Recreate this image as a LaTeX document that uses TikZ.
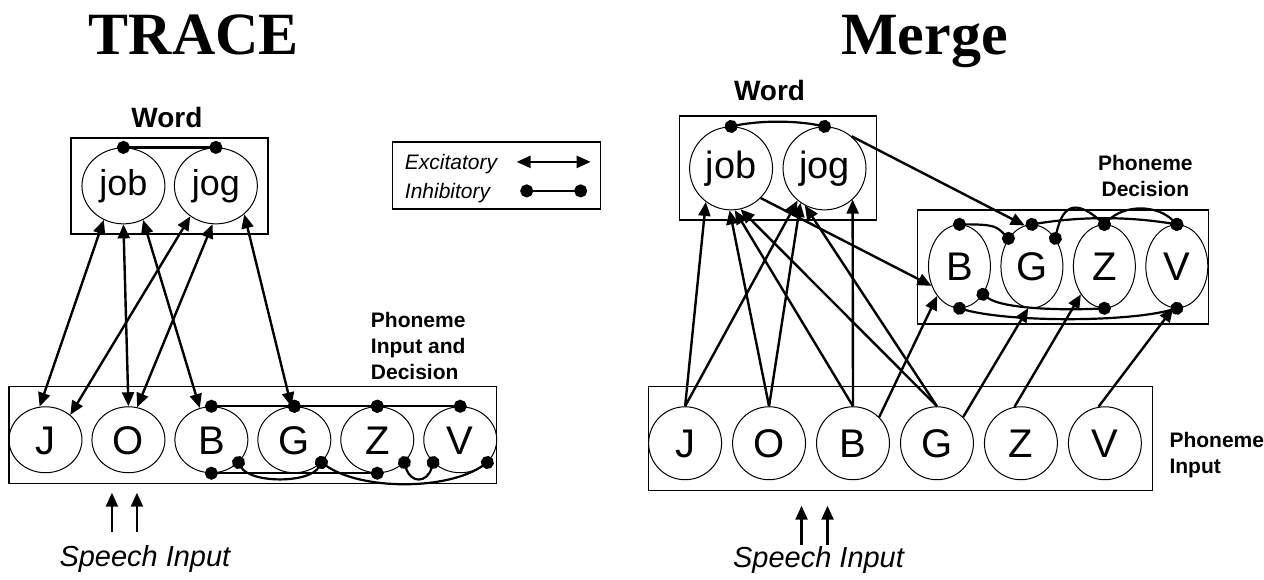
\documentclass[tikz,border=0pt]{standalone}
\usepackage{fontspec}
\setmainfont{Liberation Sans}
\newfontfamily\titlefont{Liberation Serif}
\usetikzlibrary{shapes.geometric,arrows.meta}

\tikzset{
  unitnode/.style={draw, ellipse, line width=1pt, inner sep=0pt},
  phon/.style={unitnode, font=\fontsize{40}{40}\selectfont, text height=28.6pt, text depth=0pt},
  wordunit/.style={unitnode, text height=27pt, text depth=7.6pt},
  layerbox/.style={draw, line width=1.4pt},
  exc/.style={line width=2.4pt, -{Triangle[length=14pt,width=12pt]}},
  excboth/.style={line width=2.4pt, {Triangle[length=14pt,width=12pt]}-{Triangle[length=14pt,width=12pt]}},
  inh/.style={line width=2.2pt, {Circle[length=13pt]}-{Circle[length=13pt]}, shorten <=-6.5pt, shorten >=-6.5pt},
  titletext/.style={font=\titlefont\bfseries\fontsize{60}{60}\selectfont, anchor=base},
  wordname/.style={font=\bfseries\fontsize{28}{28}\selectfont, anchor=base},
  layername/.style={font=\bfseries\fontsize{21}{26}\selectfont, align=left, inner sep=0pt},
  legendtext/.style={font=\itshape\fontsize{21}{21}\selectfont, anchor=base west, inner sep=0pt},
  speechtext/.style={font=\itshape\fontsize{29}{29}\selectfont, anchor=base},
}

\begin{document}
\begin{tikzpicture}[x=1pt,y=-1pt]
    \fill[white] (0,0) rectangle (1264,580);

    % Titoli
    \node[titletext] (tracetitle) at (194,55) {TRACE};
    \node[titletext] (mergetitle) at (925,55) {Merge};

    % TRACE: livello parole
    \node[wordname] (tword) at (167,128) {Word};
    \draw[layerbox] (71,138) rectangle (268,234);
    \node[wordunit, minimum width=83pt, minimum height=76pt, font=\fontsize{36}{36}\selectfont] (tjob) at (123.5,186) {job};
    \node[wordunit, minimum width=83pt, minimum height=76pt, font=\fontsize{36}{36}\selectfont] (tjog) at (216,186) {jog};
    \draw[inh] (tjob.north) -- (tjog.north);

    % Legenda
    \draw[layerbox] (393,142) rectangle (601,209);
    \node[legendtext] (lexc) at (405,170) {Excitatory};
    \node[legendtext] (linh) at (405,199) {Inhibitory};
    \coordinate (exA) at (517,162);
    \coordinate (exB) at (591,162);
    \coordinate (inA) at (527,191);
    \coordinate (inB) at (581,191);
    \draw[excboth] (exA) -- (exB);
    \draw[inh] (inA) -- (inB);

    % TRACE: livello fonemi
    \node[layername, anchor=north west] (tphlabel) at (371,312) {Phoneme\\Input and\\Decision};
    \draw[layerbox] (9,387) rectangle (497,484);
    \foreach \p [count=\i from 0] in {J,O,B,G,Z,V} {
      \node[phon, minimum width=73pt, minimum height=66pt] (t\p) at ({45.5+83*\i},440) {\p};
    }

    % TRACE: inibizioni tra fonemi
    \foreach \a/\b in {tB/tG,tG/tZ,tZ/tV} {
      \draw[inh] (\a.north) -- (\b.north);
    }
    \draw[inh] (tB.south) -- (tZ.south);
    \draw[inh] (tB.-40) .. controls +(12,21) and +(-12,21) .. (tG.-40);
    \draw[inh] (tG.-40) .. controls +(40,28) and +(-40,28) .. (tV.-40);
    \draw[inh] (tZ.-40) .. controls +(6,21) and +(-6,21) .. (tV.220);

    % TRACE: connessioni parole-fonemi
    \foreach \a/\b in {tJ.100/tjob.240, tO.north/tjob.south, tB.110/tjob.300,
                       tJ.45/tjog.230, tO.75/tjog.265, tG.95/tjog.315} {
      \draw[excboth] (\a) -- (\b);
    }

    % TRACE: input
    \coordinate (tsA0) at (112,532);
    \coordinate (tsA1) at (112,493);
    \coordinate (tsB0) at (137,532);
    \coordinate (tsB1) at (137,493);
    \draw[exc] (tsA0) -- (tsA1);
    \draw[exc] (tsB0) -- (tsB1);
    \node[speechtext] (tspeech) at (145,567) {Speech Input};

    % Merge: livello parole
    \node[wordname] (mword) at (770,101) {Word};
    \draw[layerbox] (680,116) rectangle (877,220);
    \node[wordunit, minimum size=83pt, font=\fontsize{38}{38}\selectfont] (mjob) at (731.5,168.5) {job};
    \node[wordunit, minimum size=83pt, font=\fontsize{38}{38}\selectfont] (mjog) at (825,168.5) {jog};
    \draw[inh] (mjob.north) .. controls +(30,-6) and +(-30,-6) .. (mjog.north);

    % Merge: decisione fonemi
    \node[layername, align=center, anchor=north] (mdeclabel) at (1146,155) {Phoneme\\Decision};
    \draw[layerbox] (918,210) rectangle (1209,324);
    \foreach \p [count=\i from 0] in {B,G,Z,V} {
      \node[phon, minimum width=62pt, minimum height=83pt] (d\p) at ({960+72.5*\i},266.5) {\p};
    }
    \draw[inh] (dB.north) .. controls +(35,0) and +(-12,-12) .. (dG.130);
    \draw[inh] (dG.north) .. controls +(50,-8) and +(-50,-8) .. (dV.north);
    \draw[inh] (dG.50) .. controls +(8,-38) and +(-25,-22) .. (dZ.north);
    \draw[inh] (dZ.north) .. controls +(20,-20) and +(-20,-20) .. (dV.north);
    \draw[inh] (dB.-50) .. controls +(20,15) and +(-40,2) .. (dZ.south);
    \draw[inh] (dB.south) .. controls +(50,14) and +(-50,14) .. (dV.south);

    % Merge: input fonemi
    \node[layername, anchor=north west] (minlabel) at (1170,432) {Phoneme\\Input};
    \draw[layerbox] (649,387) rectangle (1153,491);
    \foreach \p [count=\i from 0] in {J,O,B,G,Z,V} {
      \node[phon, minimum size=73pt] (i\p) at ({685.5+84*\i},443.5) {\p};
    }

    % Merge: connessioni
    \foreach \a/\b in {iJ.north/mjob.233, iJ.north/mjog.230, iO.north/mjob.268, iO.north/mjog.235,
                       iB.north/mjob.275, iB.north/mjog.-48, iG.north/mjob.283, iG.north/mjog.242,
                       iB.45/dB.233, mjob.-45/dB.215, mjog.50/dG.100, iG.45/dG.265,
                       iZ.100/dZ.230, iV.100/dV.265} {
      \draw[exc] (\a) -- (\b);
    }

    % Merge: input
    \coordinate (msA0) at (802,545);
    \coordinate (msA1) at (802,506);
    \coordinate (msB0) at (828,545);
    \coordinate (msB1) at (828,506);
    \draw[exc] (msA0) -- (msA1);
    \draw[exc] (msB0) -- (msB1);
    \node[speechtext] (mspeech) at (819,568) {Speech Input};
\end{tikzpicture}
\end{document}
